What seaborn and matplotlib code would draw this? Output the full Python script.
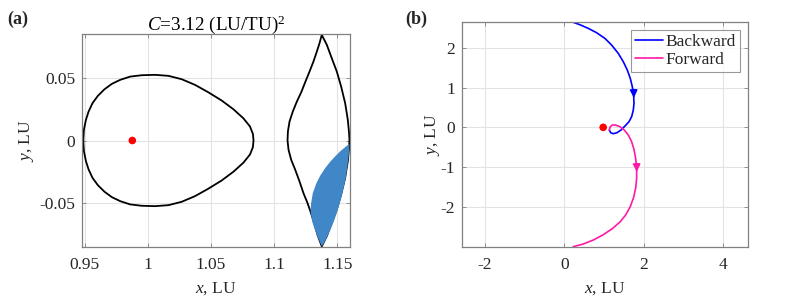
import numpy as np
import pandas as pd
import matplotlib
matplotlib.use("Agg")
import matplotlib.pyplot as plt
import seaborn as sns

# ---------------- data ----------------
# Panel (a): closed curve around the Moon
oval_x = [0.9490, 0.9495, 0.9511, 0.9532, 0.9563, 0.9605, 0.9658, 0.9716, 0.9782, 0.9861,
          0.9953, 1.0058, 1.0164, 1.0269, 1.0374, 1.0479, 1.0585, 1.0677, 1.0756, 1.0809,
          1.0832, 1.0837,
          1.0832, 1.0809, 1.0756, 1.0677, 1.0585, 1.0479, 1.0374, 1.0269, 1.0164, 1.0058,
          0.9953, 0.9861, 0.9782, 0.9716, 0.9658, 0.9605, 0.9563, 0.9532, 0.9511, 0.9495,
          0.9490]
oval_y = [0.0000, 0.0085, 0.0165, 0.0231, 0.0298, 0.0356, 0.0409, 0.0452, 0.0484, 0.0510,
          0.0521, 0.0524, 0.0516, 0.0489, 0.0444, 0.0385, 0.0319, 0.0250, 0.0178, 0.0112,
          0.0053, 0.0000,
          -0.0053, -0.0112, -0.0178, -0.0250, -0.0319, -0.0385, -0.0444, -0.0489, -0.0516, -0.0524,
          -0.0521, -0.0510, -0.0484, -0.0452, -0.0409, -0.0356, -0.0298, -0.0231, -0.0165, -0.0085,
          0.0000]

# Panel (a): lens-shaped curve near L2
lens_x = [1.1377, 1.1359, 1.1338, 1.1311, 1.1280, 1.1248, 1.1217, 1.1180, 1.1148, 1.1122,
          1.1109, 1.1106, 1.1114, 1.1135, 1.1167, 1.1201, 1.1232, 1.1264, 1.1290, 1.1317,
          1.1343, 1.1377,
          1.1417, 1.1456, 1.1496, 1.1530, 1.1562, 1.1583, 1.1593, 1.1596,
          1.1593, 1.1583, 1.1562, 1.1530, 1.1496, 1.1456, 1.1417, 1.1377]
lens_y = [0.0843, 0.0776, 0.0710, 0.0630, 0.0550, 0.0471, 0.0391, 0.0311, 0.0232, 0.0152,
          0.0072, 0.0000, -0.0074, -0.0154, -0.0234, -0.0327, -0.0420, -0.0499, -0.0574, -0.0659,
          -0.0752, -0.0845,
          -0.0763, -0.0657, -0.0550, -0.0431, -0.0298, -0.0165, -0.0059, 0.0000,
          0.0059, 0.0165, 0.0298, 0.0431, 0.0550, 0.0657, 0.0763, 0.0843]

# Panel (a): blue filled region
fill_x = [1.1596, 1.1562, 1.1522, 1.1483, 1.1443, 1.1404, 1.1364, 1.1333, 1.1306, 1.1293,
          1.1288, 1.1301, 1.1322, 1.1348, 1.1377, 1.1398, 1.1422, 1.1448, 1.1475, 1.1501,
          1.1527, 1.1548, 1.1567, 1.1580, 1.1591, 1.1596]
fill_y = [-0.0026, -0.0053, -0.0087, -0.0127, -0.0170, -0.0220, -0.0282, -0.0345, -0.0420, -0.0499,
          -0.0566, -0.0646, -0.0712, -0.0779, -0.0845, -0.0813, -0.0765, -0.0707, -0.0638, -0.0561,
          -0.0473, -0.0388, -0.0300, -0.0207, -0.0114, -0.0026]

moon_x = [0.9878]
moon_y = [0.0]

# Panel (b): backward / forward trajectories
back_x = [0.186, 0.395, 0.605, 0.815, 1.025, 1.193, 1.361, 1.487, 1.588, 1.663, 1.714, 1.747,
          1.756, 1.739, 1.697, 1.630, 1.529, 1.428, 1.327, 1.235, 1.168, 1.134]
back_y = [2.654, 2.579, 2.487, 2.378, 2.235, 2.068, 1.858, 1.649, 1.440, 1.230, 1.021, 0.812,
          0.602, 0.435, 0.267, 0.141, 0.033, -0.068, -0.135, -0.160, -0.135, -0.068]
fwd_x = [1.134, 1.159, 1.210, 1.294, 1.403, 1.512, 1.613, 1.697, 1.756, 1.798, 1.823, 1.823,
         1.798, 1.747, 1.663, 1.546, 1.403, 1.210, 0.983, 0.731, 0.479, 0.227]
fwd_y = [-0.068, 0.016, 0.058, 0.058, 0.016, -0.068, -0.193, -0.361, -0.554, -0.780, -1.031, -1.282,
         -1.533, -1.760, -1.994, -2.204, -2.379, -2.547, -2.698, -2.832, -2.932, -2.999]
moon_b_x = [0.98]
moon_b_y = [0.0]

# arrowheads along trajectories (tail -> head)
arrow_back = [(1.747, 0.95), (1.754, 0.74)]
arrow_fwd = [(1.822, -0.90), (1.828, -1.12)]

a_xticks = [0.95, 1.0, 1.05, 1.1, 1.15]
a_xticklabels = ["0.95", "1", "1.05", "1.1", "1.15"]
a_yticks = [-0.05, 0.0, 0.05]
a_yticklabels = ["-0.05", "0", "0.05"]
b_xticks = [-2, 0, 2, 4]
b_xticklabels = ["-2", "0", "2", "4"]
b_yticks = [-2, -1, 0, 1, 2]
b_yticklabels = ["-2", "-1", "0", "1", "2"]

title_a = "$C$=3.12 (LU/TU)$^2$"
legend_labels = ["Backward", "Forward"]

# ---------------- style ----------------
sns.set_theme(style="whitegrid")
plt.rcParams["font.family"] = ["Liberation Serif", "DejaVu Serif"]
plt.rcParams["mathtext.fontset"] = "custom"
plt.rcParams["mathtext.rm"] = "Liberation Serif"
plt.rcParams["mathtext.it"] = "Liberation Serif:italic"
plt.rcParams["mathtext.bf"] = "Liberation Serif:bold"

FS = 12.5
TXT = "#262626"
SPINE = "#808080"
GRID = "#e3e3e3"
BLUE_LINE = "#0000ff"
PINK = "#ff1aa6"
FILL = "#3f87c6"

fig = plt.figure(figsize=(7.97, 2.99), dpi=100)
fig.patch.set_facecolor("white")
ax1 = fig.add_axes([0.1029, 0.1739, 0.3362, 0.7124])
ax2 = fig.add_axes([0.5800, 0.1749, 0.3581, 0.7505])


def style_axes(ax):
    ax.set_facecolor("white")
    ax.grid(True, color=GRID, linewidth=0.8)
    for s in ax.spines.values():
        s.set_visible(True)
        s.set_color(SPINE)
        s.set_linewidth(0.9)
    ax.tick_params(direction="in", length=3, width=0.6, colors=SPINE,
                   labelcolor=TXT, labelsize=FS, top=True, right=True,
                   bottom=True, left=True)
    ax.tick_params(axis="x", pad=7.5)
    ax.tick_params(axis="y", pad=5)
    ax.set_axisbelow(True)


# ---------------- panel (a) ----------------
style_axes(ax1)
sns.lineplot(x=oval_x, y=oval_y, sort=False, estimator=None, color="black", lw=1.3, ax=ax1)
sns.lineplot(x=lens_x, y=lens_y, sort=False, estimator=None, color="black", lw=1.3, ax=ax1)
ax1.fill(fill_x, fill_y, color=FILL, lw=0, zorder=3)
sns.scatterplot(x=moon_x, y=moon_y, color="red", s=30, edgecolor="none", ax=ax1, zorder=4)
ax1.set_xlim(0.948, 1.160)
ax1.set_ylim(-0.085, 0.085)
ax1.set_xticks(a_xticks)
ax1.set_xticklabels(a_xticklabels)
ax1.set_yticks(a_yticks)
ax1.set_yticklabels(a_yticklabels)
ax1.set_xlabel("$x$, LU", fontsize=FS, color=TXT)
ax1.set_ylabel("$y$, LU", fontsize=FS, color=TXT)
ax1.xaxis.set_label_coords(0.5, -0.155)
ax1.yaxis.set_label_coords(-0.172, 0.5)
ax1.set_title(title_a, fontsize=13.75, color="black", pad=3)

# ---------------- panel (b) ----------------
style_axes(ax2)
sns.lineplot(x=back_x, y=back_y, sort=False, estimator=None, color=BLUE_LINE, lw=1.2,
             ax=ax2, label=legend_labels[0])
sns.lineplot(x=fwd_x, y=fwd_y, sort=False, estimator=None, color=PINK, lw=1.2,
             ax=ax2, label=legend_labels[1])
for arr, col in ((arrow_back, BLUE_LINE), (arrow_fwd, PINK)):
    ax2.annotate("", xy=arr[1], xytext=arr[0],
                 arrowprops=dict(arrowstyle="-|>", color=col, lw=1.2, mutation_scale=11,
                                 shrinkA=0, shrinkB=0))
sns.scatterplot(x=moon_b_x, y=moon_b_y, color="red", s=30, edgecolor="none", ax=ax2,
                zorder=4, legend=False)
ax2.set_xlim(-2.57, 4.62)
ax2.set_ylim(-3.0, 2.64)
ax2.set_xticks(b_xticks)
ax2.set_xticklabels(b_xticklabels)
ax2.set_yticks(b_yticks)
ax2.set_yticklabels(b_yticklabels)
ax2.set_xlabel("$x$, LU", fontsize=FS, color=TXT)
ax2.set_ylabel("$y$, LU", fontsize=FS, color=TXT)
ax2.xaxis.set_label_coords(0.5, -0.148)
ax2.yaxis.set_label_coords(-0.072, 0.5)
leg = ax2.legend(loc="upper right", bbox_to_anchor=(0.973, 0.966), borderaxespad=0,
                 fontsize=FS, frameon=True, fancybox=False, handlelength=1.6,
                 handletextpad=0.15, borderpad=0.23, labelspacing=0.12)
leg.get_frame().set_edgecolor(SPINE)
leg.get_frame().set_linewidth(0.8)

# panel tags
fig.text(7 / 797, 1 - 19.5 / 299, "(a)", fontsize=FS + 0.5, fontweight="bold", va="center", ha="left")
fig.text(405 / 797, 1 - 19.5 / 299, "(b)", fontsize=FS + 0.5, fontweight="bold", va="center", ha="left")

fig.savefig("out.png", dpi=100, facecolor="white")
